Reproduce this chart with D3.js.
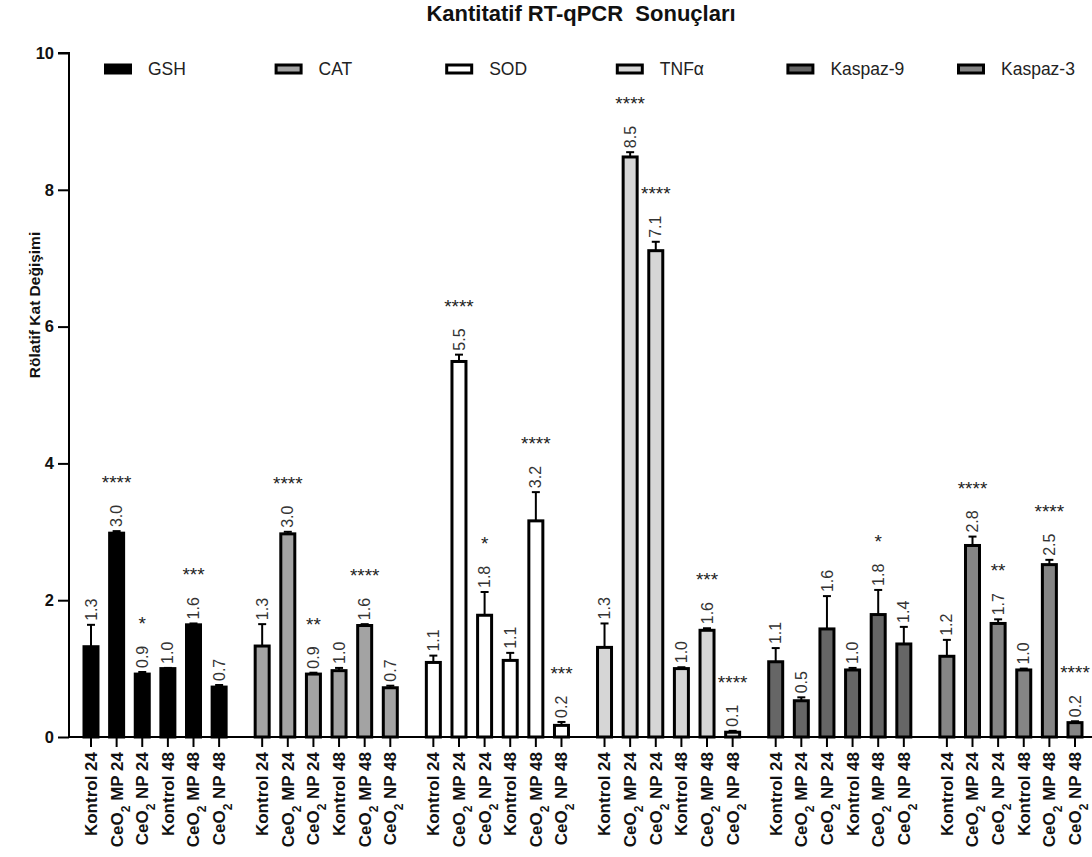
<html>
<head>
    <style>
        body {margin:0; background:white;}
        text {font-family: "Liberation Sans", Arial, sans-serif;}
    </style>
    <script src="https://d3js.org/d3.v7.min.js"></script>
</head>
<body>
    <script>
        // genes (groups) and conditions
        var genes = ["GSH", "CAT", "SOD", "TNFα", "Kaspaz-9", "Kaspaz-3"];
        var conditions = ["Kontrol 24", "CeO2 MP 24", "CeO2 NP 24", "Kontrol 48", "CeO2 MP 48", "CeO2 NP 48"];

        // mean fold change per gene
        var gshMeans = [1.32, 2.98, 0.92, 1.00, 1.64, 0.73];
        var catMeans = [1.33, 2.97, 0.92, 0.97, 1.63, 0.72];
        var sodMeans = [1.09, 5.49, 1.78, 1.12, 3.16, 0.17];
        var tnfMeans = [1.31, 8.48, 7.11, 1.00, 1.56, 0.07];
        var k9Means  = [1.10, 0.53, 1.58, 0.98, 1.79, 1.36];
        var k3Means  = [1.18, 2.80, 1.66, 0.98, 2.52, 0.21];

        // error (upper) per gene
        var gshErr = [0.32, 0.03, 0.03, 0.01, 0.02, 0.03];
        var catErr = [0.32, 0.03, 0.02, 0.04, 0.02, 0.03];
        var sodErr = [0.10, 0.10, 0.34, 0.11, 0.42, 0.05];
        var tnfErr = [0.35, 0.07, 0.13, 0.02, 0.03, 0.02];
        var k9Err  = [0.20, 0.05, 0.48, 0.03, 0.36, 0.25];
        var k3Err  = [0.24, 0.13, 0.06, 0.02, 0.07, 0.02];

        // significance stars
        var gshStars = ["", "****", "*", "", "***", ""];
        var catStars = ["", "****", "**", "", "****", ""];
        var sodStars = ["", "****", "*", "", "****", "***"];
        var tnfStars = ["", "****", "****", "", "***", "****"];
        var k9Stars  = ["", "", "", "", "*", ""];
        var k3Stars  = ["", "****", "**", "", "****", "****"];

        var yTicks = [0, 2, 4, 6, 8, 10];

        var allMeans = [gshMeans, catMeans, sodMeans, tnfMeans, k9Means, k3Means];
        var allErr = [gshErr, catErr, sodErr, tnfErr, k9Err, k3Err];
        var allStars = [gshStars, catStars, sodStars, tnfStars, k9Stars, k3Stars];
        var fills = ["#000000", "#a3a3a3", "#ffffff", "#d6d6d6", "#666666", "#858585"];

        var width = 1092, height = 857;
        var groupGap = 0.68;  // extra slots between groups

        // build table
        var rows = [];
        genes.forEach(function(g, gi){
            conditions.forEach(function(c, ci){
                rows.push({gene: g, gi: gi, cond: c, pos: gi * (6 + groupGap) + ci,
                           mean: allMeans[gi][ci], err: allErr[gi][ci], stars: allStars[gi][ci]});
            });
        });

        var x = d3.scaleLinear()
            .domain([0, 5 * (6 + groupGap) + 5])
            .range([91, 1075]);

        var y = d3.scaleLinear()
            .domain([0, 10])
            .range([737, 53]);

        var color = d3.scaleOrdinal().domain(genes).range(fills);

        var svg = d3.select("body").append("svg")
            .attr("width", width)
            .attr("height", height);

        // title
        svg.append("text")
            .attr("x", 581).attr("y", 21)
            .attr("text-anchor", "middle")
            .style("font-size", "22px").style("font-weight", "bold")
            .style("white-space", "pre")
            .attr("fill", "#111")
            .text("Kantitatif RT-qPCR  Sonuçları");

        // y axis
        var yAxis = svg.append("g")
            .attr("transform", "translate(69,0)")
            .call(d3.axisLeft(y).tickValues(yTicks).tickSize(11).tickPadding(4));
        yAxis.select(".domain").attr("stroke-width", 2).attr("d", "M-11,53H0V737");
        yAxis.selectAll(".tick line").attr("stroke-width", 2);
        yAxis.selectAll(".tick text")
            .style("font-size", "16.5px").style("font-weight", "bold")
            .style("font-family", "Liberation Sans, Arial, sans-serif")
            .attr("fill", "#111");

        svg.append("text")
            .attr("transform", "translate(40,305) rotate(-90)")
            .attr("text-anchor", "middle")
            .style("font-size", "15.5px").style("font-weight", "bold")
            .attr("fill", "#111")
            .text("Rölatif Kat Değişimi");

        // bars
        var barW = 14;
        svg.append("g")
            .selectAll("rect")
            .data(rows)
            .join("rect")
            .attr("x", d => x(d.pos) - barW / 2)
            .attr("width", barW)
            .attr("y", d => y(d.mean))
            .attr("height", d => y(0) - y(d.mean))
            .attr("fill", d => color(d.gene))
            .attr("stroke", "#000")
            .attr("stroke-width", 3);

        // error bars (upper only)
        var eb = svg.append("g")
            .attr("stroke", "#000")
            .attr("stroke-width", 2)
            .selectAll("g")
            .data(rows)
            .join("g");
        eb.append("line")
            .attr("x1", d => x(d.pos)).attr("x2", d => x(d.pos))
            .attr("y1", d => y(d.mean)).attr("y2", d => y(d.mean + d.err));
        eb.append("line")
            .attr("x1", d => x(d.pos) - 4).attr("x2", d => x(d.pos) + 4)
            .attr("y1", d => y(d.mean + d.err)).attr("y2", d => y(d.mean + d.err));

        // x axis
        svg.append("line")
            .attr("x1", 68).attr("x2", width)
            .attr("y1", y(0)).attr("y2", y(0))
            .attr("stroke", "#000").attr("stroke-width", 2);

        svg.append("g")
            .selectAll("line")
            .data(rows)
            .join("line")
            .attr("x1", d => x(d.pos)).attr("x2", d => x(d.pos))
            .attr("y1", y(0)).attr("y2", y(0) + 10)
            .attr("stroke", "#000").attr("stroke-width", 2);

        var xl = svg.append("g")
            .selectAll("text")
            .data(rows)
            .join("text")
            .attr("transform", d => `translate(${x(d.pos)},${y(0) + 15}) rotate(-90)`)
            .attr("text-anchor", "end")
            .attr("dy", "0.35em")
            .style("font-size", "17px").style("font-weight", "bold")
            .attr("fill", "#111");
        xl.each(function(d){
            var t = d3.select(this);
            if (d.cond.indexOf("CeO2") === 0) {
                t.append("tspan").text("CeO");
                t.append("tspan").attr("baseline-shift", "sub").style("font-size", "12px").text("2");
                t.append("tspan").text(d.cond.slice(4));
            } else {
                t.text(d.cond);
            }
        });

        // value labels
        var fmt = d3.format(".1f");
        svg.append("g")
            .selectAll("text")
            .data(rows)
            .join("text")
            .attr("transform", d => `translate(${x(d.pos)},${y(d.mean + d.err) - 4}) rotate(-90)`)
            .attr("text-anchor", "start")
            .attr("dy", "0.35em")
            .style("font-size", "16px")
            .attr("fill", "#333")
            .text(d => fmt(d.mean));

        // significance stars
        svg.append("g")
            .selectAll("text")
            .data(rows.filter(d => d.stars))
            .join("text")
            .attr("x", d => x(d.pos))
            .attr("y", d => y(d.mean + d.err) - 42)
            .attr("text-anchor", "middle")
            .style("font-size", "19px")
            .attr("fill", "#222")
            .text(d => d.stars);

        // legend
        var lx = d3.scalePoint().domain(genes).range([104, 957]);
        var leg = svg.append("g")
            .selectAll("g")
            .data(genes)
            .join("g")
            .attr("transform", d => `translate(${lx(d)},69)`);
        leg.append("rect")
            .attr("x", 1.5).attr("y", -4)
            .attr("width", 25).attr("height", 8)
            .attr("fill", d => color(d))
            .attr("stroke", "#000").attr("stroke-width", 3);
        leg.append("text")
            .attr("x", 44).attr("dy", "0.35em")
            .style("font-size", "17.5px")
            .attr("fill", "#222")
            .text(d => d);
    </script>
</body>
</html>
